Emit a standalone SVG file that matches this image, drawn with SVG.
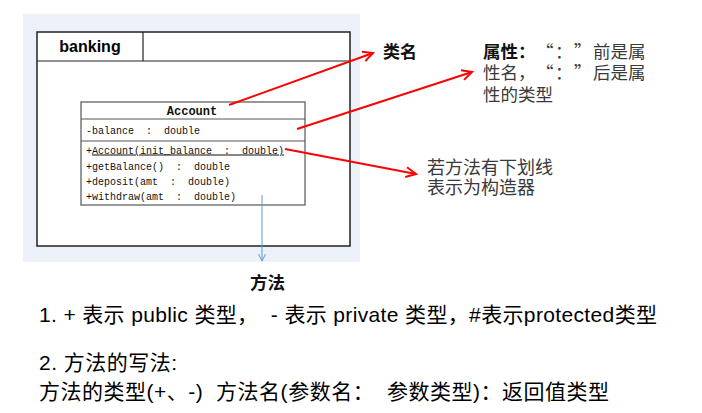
<svg xmlns="http://www.w3.org/2000/svg" width="702" height="413" viewBox="0 0 702 413">
<style>
.mono{font-family:"Liberation Mono","DejaVu Sans Mono",monospace;font-size:10px;fill:#111;white-space:pre}
.note{font-family:"Noto Sans CJK SC","Liberation Sans",sans-serif;fill:#3a3a3a}
.red{stroke:#ff0000;stroke-width:2;fill:none}
.bottom{font-family:"Liberation Sans","Noto Sans CJK SC",sans-serif;font-size:21px;fill:#000;white-space:pre}
</style>
<defs>
<marker id="ra" markerUnits="userSpaceOnUse" markerWidth="14" markerHeight="14" refX="11" refY="6" orient="auto" viewBox="0 0 14 12">
<path d="M1,1 L11,6 L1,11" fill="none" stroke="#ff0000" stroke-width="2"/>
</marker>
<marker id="ba" markerUnits="userSpaceOnUse" markerWidth="10" markerHeight="10" refX="8" refY="4" orient="auto" viewBox="0 0 10 8">
<path d="M1,0.5 L8,4 L1,7.5" fill="none" stroke="#5b9bd5" stroke-width="1"/>
</marker>
</defs>
<rect x="23" y="14" width="337" height="248" fill="#ebf0f9"/>
<g id="banking">
<rect x="37" y="32" width="313" height="214" fill="#fff" stroke="#222" stroke-width="1.5"/>
<line x1="37" y1="61" x2="350" y2="61" stroke="#222" stroke-width="1.2"/>
<line x1="143" y1="32" x2="143" y2="61" stroke="#222" stroke-width="1.2"/>
<text x="90" y="52" text-anchor="middle" font-family="Liberation Sans,Arial,sans-serif" font-weight="bold" font-size="16">banking</text>
</g>
<g id="account">
<rect x="81" y="102" width="224" height="103" fill="#fff" stroke="#555" stroke-width="1.2"/>
<line x1="81" y1="119" x2="305" y2="119" stroke="#555" stroke-width="1.2"/>
<line x1="81" y1="141" x2="305" y2="141" stroke="#555" stroke-width="1.2"/>
<text x="192" y="115" text-anchor="middle" font-family="Liberation Mono,monospace" font-weight="bold" font-size="12" fill="#111">Account</text>
<text class="mono" x="86" y="133.5">-balance  :  double</text>
<text class="mono" x="86" y="153.5">+<tspan text-decoration="underline">Account(init_balance  :  double)</tspan></text>
<text class="mono" x="86" y="169.5">+getBalance()  :  double</text>
<text class="mono" x="86" y="184.5">+deposit(amt  :  double)</text>
<text class="mono" x="86" y="199.5">+withdraw(amt  :  double)</text>
</g>
<g id="connectors">
<line class="red" x1="229" y1="105" x2="373" y2="53" marker-end="url(#ra)"/>
<line class="red" x1="297" y1="129" x2="472" y2="72" marker-end="url(#ra)"/>
<line class="red" x1="285" y1="149" x2="416" y2="174" marker-end="url(#ra)"/>
<line x1="262" y1="195" x2="262" y2="261" stroke="#5b9bd5" stroke-width="1" marker-end="url(#ba)"/>
</g>
<g id="label-classname">
<text x="383" y="58" font-family="Noto Sans CJK SC,sans-serif" font-weight="bold" font-size="17" fill="#111">类名</text>
</g>
<g id="label-attr">
<text class="note" y="58" font-size="17.5"><tspan x="483" font-weight="bold" fill="#111">属性：</tspan><tspan x="536">“</tspan><tspan x="555">：</tspan><tspan x="574">”</tspan><tspan x="593">前是属</tspan></text>
<text class="note" y="79" font-size="17.5"><tspan x="483">性名，</tspan><tspan x="536">“</tspan><tspan x="555">：</tspan><tspan x="574">”</tspan><tspan x="593">后是属</tspan></text>
<text class="note" x="483" y="101" font-size="17.5">性的类型</text>
</g>
<g id="label-ctor">
<text class="note" x="427" y="174" font-size="18">若方法有下划线</text>
<text class="note" x="427" y="194" font-size="18">表示为构造器</text>
</g>
<g id="label-method">
<text x="250" y="289" font-family="Noto Sans CJK SC,sans-serif" font-weight="bold" font-size="17.5" fill="#111">方法</text>
</g>
<g id="notes">
<text class="bottom" x="39" y="322" textLength="618">1. + 表示 public 类型，  - 表示 private 类型，#表示protected类型</text>
<text class="bottom" x="39" y="370" textLength="138">2. 方法的写法:</text>
<text class="bottom" x="39" y="399" textLength="570">方法的类型(+、-)  方法名(参数名：  参数类型)：返回值类型</text>
</g>
</svg>
